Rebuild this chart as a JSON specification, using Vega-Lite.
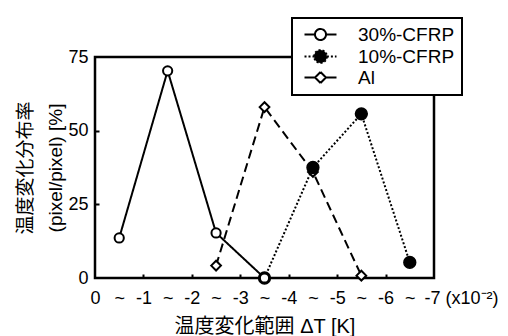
{
  "$schema": "https://vega.github.io/schema/vega-lite/v6.json",
  "width": 339,
  "height": 221,
  "autosize": {"type": "none"},
  "padding": {"left": 95, "top": 57, "right": 74, "bottom": 58},
  "background": "white",
  "config": {
    "view": {"stroke": "black", "strokeWidth": 2.5},
    "font": "'Liberation Sans', 'Noto Sans CJK JP', sans-serif",
    "axis": {"titleColor": "#000000", "labelColor": "#000000"}
  },
  "data": {
    "values": [
      {"s": "Al", "x": 2.5, "y": 4.2},
      {"s": "Al", "x": 3.5, "y": 58},
      {"s": "Al", "x": 4.5, "y": 36},
      {"s": "Al", "x": 5.5, "y": 0.8},
      {"s": "10%-CFRP", "x": 3.5, "y": 0},
      {"s": "10%-CFRP", "x": 4.5, "y": 37.5},
      {"s": "10%-CFRP", "x": 5.5, "y": 55.7},
      {"s": "10%-CFRP", "x": 6.5, "y": 5.3},
      {"s": "30%-CFRP", "x": 0.5, "y": 13.6},
      {"s": "30%-CFRP", "x": 1.5, "y": 70.3},
      {"s": "30%-CFRP", "x": 2.5, "y": 15.3},
      {"s": "30%-CFRP", "x": 3.5, "y": 0}
    ]
  },
  "encoding": {
    "x": {
      "field": "x",
      "type": "quantitative",
      "scale": {"domain": [0, 7], "nice": false, "zero": false},
      "axis": {
        "values": [0, 0.5, 1, 1.5, 2, 2.5, 3, 3.5, 4, 4.5, 5, 5.5, 6, 6.5, 7],
        "labelExpr": "datum.value % 1 != 0 ? '~' : (datum.value == 0 ? '0' : (datum.value == 7 ? '-7 (x10⁻²)' : '-' + datum.value))",
        "grid": false,
        "domain": false,
        "tickSize": -4,
        "tickWidth": 2,
        "tickColor": "black",
        "tickOpacity": {"condition": {"test": "datum.value % 1 != 0 || datum.value == 0 || datum.value == 7", "value": 0}, "value": 1},
        "labelAlign": {"condition": {"test": "datum.value == 7", "value": "left"}, "value": "center"},
        "labelOffset": {"condition": {"test": "datum.value == 7", "value": -10}, "value": 0},
        "labelFontSize": 18,
        "labelColor": "#000000",
        "labelPadding": 15,
        "labelOverlap": false,
        "labelBound": false,
        "labelFlush": false,
        "title": "温度変化範囲 ΔT [K]",
        "titleFontSize": 20,
        "titleFontWeight": "normal",
        "titleColor": "#000000",
        "titlePadding": 9
      }
    },
    "y": {
      "field": "y",
      "type": "quantitative",
      "scale": {"domain": [0, 75], "nice": false},
      "axis": {
        "values": [0, 25, 50, 75],
        "grid": false,
        "domain": false,
        "tickSize": -4,
        "tickWidth": 2,
        "tickColor": "black",
        "tickOpacity": {"condition": {"test": "datum.value == 0 || datum.value == 75", "value": 0}, "value": 1},
        "labelFontSize": 18,
        "labelColor": "#000000",
        "labelPadding": 11,
        "labelFlush": false,
        "labelBound": false,
        "title": ["温度変化分布率", "(pixel/pixel)  [%]"],
        "titleFontSize": 19,
        "titleFontWeight": "normal",
        "titleColor": "#000000",
        "titleLineHeight": 30,
        "titlePadding": 2
      }
    }
  },
  "layer": [
    {
      "mark": {"type": "line", "stroke": "black", "strokeWidth": 2},
      "encoding": {
        "strokeDash": {
          "field": "s",
          "type": "nominal",
          "scale": {"domain": ["30%-CFRP", "10%-CFRP", "Al"], "range": [[1, 0], [2, 2], [9, 5]]},
          "legend": {
            "orient": "none",
            "legendX": 197,
            "legendY": -39,
            "title": null,
            "strokeColor": "black",
            "fillColor": "white",
            "padding": 7,
            "labelFont": "'Liberation Sans', sans-serif",
            "labelFontSize": 19,
            "labelColor": "black",
            "labelOffset": 28,
            "rowPadding": 1,
            "symbolSize": 256,
            "symbolOffset": 12,
            "symbolStrokeWidth": 2,
            "symbolStrokeColor": "black",
            "encode": {
              "legend": {"update": {"strokeWidth": {"value": 2}}},
              "symbols": {
                "update": {
                  "shape": {"signal": "datum.value === '30%-CFRP' ? 'M-2,0L-0.69,0M0.69,0L2,0M0.69,0A0.69,0.69 0 1,1 -0.69,0A0.69,0.69 0 1,1 0.69,0Z' : (datum.value === '10%-CFRP' ? 'M-2,0L-0.8,0M0.8,0L2,0M0.8,0A0.8,0.8 0 1,1 -0.8,0A0.8,0.8 0 1,1 0.8,0Z' : 'M-2,0L-1.34,0M-1.34,0L-0.68,0M-0.68,0L0,-0.68M0,-0.68L0.68,0M0.68,0L0,0.68M0,0.68L-0.68,0M0.68,0L1.34,0M1.34,0L2,0')"},
                  "fill": {"signal": "datum.value === '10%-CFRP' ? 'black' : 'white'"},
                  "stroke": {"value": "black"},
                  "opacity": {"value": 1},
                  "fillOpacity": {"value": 1}
                }
              }
            }
          }
        }
      }
    },
    {
      "transform": [{"filter": "datum.s === 'Al'"}],
      "mark": {"type": "point", "shape": "diamond", "filled": true, "fill": "white", "stroke": "black", "strokeWidth": 2, "size": 95, "opacity": 1}
    },
    {
      "transform": [{"filter": "datum.s === '10%-CFRP'"}],
      "mark": {"type": "point", "shape": "circle", "filled": true, "fill": "black", "stroke": "black", "strokeWidth": 1.5, "size": 140, "opacity": 1}
    },
    {
      "transform": [{"filter": "datum.s === '30%-CFRP'"}],
      "mark": {"type": "point", "shape": "circle", "filled": true, "fill": "white", "stroke": "black", "strokeWidth": 2, "size": 85, "opacity": 1}
    }
  ]
}
